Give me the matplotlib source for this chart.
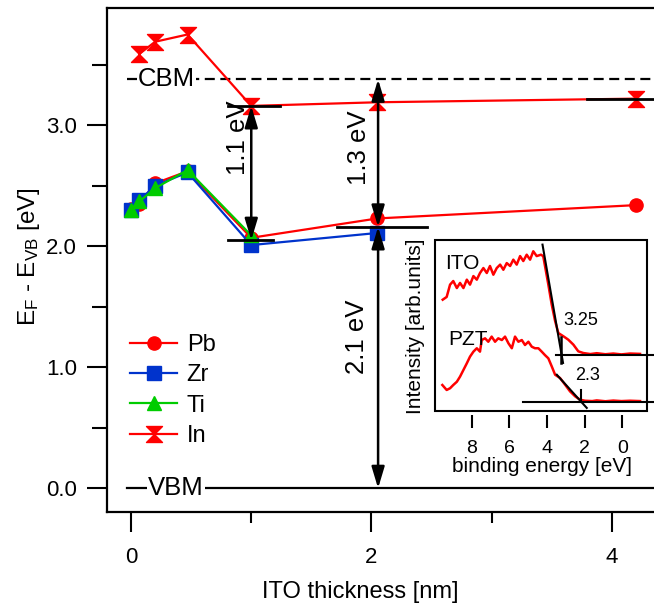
import matplotlib.pyplot as plt
from matplotlib.path import Path
from matplotlib.patches import ArrowStyle, Rectangle

plt.rcParams['font.family'] = ['Liberation Sans', 'DejaVu Sans']
plt.rcParams['mathtext.default'] = 'regular'

# --- main panel: Fermi level vs ITO thickness ---
thick_pb = [0, 0.07, 0.2, 0.47, 1.0, 2.05, 4.2]
pb = [2.31, 2.35, 2.52, 2.62, 2.07, 2.23, 2.34]
thick_zr = [0, 0.07, 0.2, 0.47, 1.0, 2.05]
zr = [2.30, 2.38, 2.50, 2.61, 2.01, 2.11]
thick_ti = [0, 0.07, 0.2, 0.47, 1.0]
ti = [2.30, 2.37, 2.48, 2.63, 2.09]
thick_in = [0.07, 0.2, 0.47, 1.0, 2.05, 4.2]
in_vals = [3.59, 3.69, 3.75, 3.16, 3.19, 3.22]

cbm = 3.38
vbm = 0.0

# short level marks (x from, x to, level)
bar_x0 = [0.81, 0.81, 1.71, 3.79]
bar_x1 = [1.24, 1.18, 2.46, 4.40]
bar_y = [3.16, 2.05, 2.16, 3.22]

# double arrows (x, top, bottom) and their labels
arr_x = [1.0, 2.055, 2.055]
arr_top = [3.16, 3.38, 2.16]
arr_bot = [2.05, 2.16, 0.0]
arr_text = ['1.1 eV', '1.3 eV', '2.1 eV']
arr_tx = [0.886, 1.897, 1.88]
arr_ty = [2.895, 2.817, 1.25]

# --- inset: valence band spectra ---
ito_e = [9.54, 9.33, 9.15, 8.98, 8.79, 8.62, 8.44, 8.26, 8.09, 7.91, 7.73, 7.56,
         7.38, 7.20, 7.03, 6.85, 6.67, 6.49, 6.32, 6.14, 5.96, 5.79, 5.61, 5.43,
         5.26, 5.08, 4.90, 4.73, 4.55, 4.32, 4.20, 3.93, 3.75, 3.57, 3.40, 3.13,
         2.87, 2.60, 2.34, 2.07, 1.70, 1.36, 0.90, 0.48, 0.05, -0.41, -0.94]
ito_i = [0.651, 0.667, 0.739, 0.760, 0.719, 0.749, 0.719, 0.768, 0.739, 0.789,
         0.768, 0.807, 0.836, 0.807, 0.848, 0.797, 0.836, 0.856, 0.826, 0.865,
         0.848, 0.885, 0.856, 0.906, 0.877, 0.914, 0.885, 0.934, 0.906, 0.914,
         0.905, 0.739, 0.622, 0.526, 0.456, 0.437, 0.417, 0.388, 0.349, 0.339,
         0.333, 0.338, 0.332, 0.336, 0.331, 0.336, 0.334]
pzt_e = [9.56, 9.33, 9.15, 8.98, 8.79, 8.62, 8.44, 8.26, 8.09, 7.91, 7.73, 7.56,
         7.47, 7.29, 7.12, 6.94, 6.76, 6.59, 6.40, 6.23, 6.05, 5.87, 5.70, 5.52,
         5.34, 5.17, 4.99, 4.81, 4.64, 4.46, 4.28, 4.11, 3.93, 3.75, 3.57, 3.31,
         3.04, 2.78, 2.51, 2.25, 1.98, 1.60, 1.36, 0.90, 0.48, 0.05, -0.41, -0.94]
pzt_i = [0.152, 0.123, 0.133, 0.152, 0.171, 0.201, 0.240, 0.279, 0.318, 0.347,
         0.367, 0.347, 0.415, 0.425, 0.405, 0.435, 0.405, 0.425, 0.415, 0.435,
         0.396, 0.367, 0.435, 0.405, 0.415, 0.386, 0.405, 0.376, 0.367, 0.367,
         0.347, 0.327, 0.308, 0.261, 0.212, 0.193, 0.154, 0.115, 0.086, 0.066,
         0.060, 0.058, 0.062, 0.057, 0.061, 0.058, 0.060, 0.058]

ito_fit_e = [4.24, 3.15]
ito_fit_i = [0.973, 0.281]
ito_base_e = [3.52, -1.68]
ito_base_i = [0.329, 0.329]
ito_onset = 3.25
pzt_fit_e = [3.48, 1.89]
pzt_fit_i = [0.212, 0.018]
pzt_base_e = [5.29, -1.68]
pzt_base_i = [0.051, 0.051]
pzt_onset = 2.2

RED = '#ff0000'
BLUE = '#0033cc'
GREEN = '#00cc00'

hourglass = Path([(-1, 1), (1, 1), (-1, -1), (1, -1), (-1, 1)],
                 [Path.MOVETO, Path.LINETO, Path.LINETO, Path.LINETO, Path.CLOSEPOLY])

fig = plt.figure(figsize=(6.54, 6.10), dpi=100)
ax = fig.add_axes([107 / 654, 98 / 610, 553 / 654, 504 / 610])

ax.plot(thick_pb, pb, '-o', color=RED, lw=1.6, ms=9.5, mec=RED, label='Pb', zorder=3)
ax.plot(thick_zr, zr, '-s', color=BLUE, lw=1.6, ms=9.5, mec=BLUE, label='Zr', zorder=3)
ax.plot(thick_ti, ti, '-^', color=GREEN, lw=1.6, ms=10.5, mec=GREEN, label='Ti', zorder=3)
ax.plot(thick_in, in_vals, '-', marker=hourglass, color=RED, lw=1.6, ms=11.5, mec=RED,
        label='In', zorder=3)

for x0, x1, y in zip(bar_x0, bar_x1, bar_y):
    ax.plot([x0, x1], [y, y], color='k', lw=2, zorder=4, clip_on=False)

# band edges
ax.plot([-0.03, 4.4], [cbm, cbm], color='k', lw=1.6, dashes=(4.5, 2.5), zorder=2)
ax.plot([-0.03, 4.4], [vbm, vbm], color='k', lw=1.6, zorder=2)
ax.text(0.295, cbm, 'CBM', fontsize=18.5, ha='center', va='center', zorder=4,
        bbox=dict(fc='white', ec='none', pad=1))
ax.text(0.374, vbm, 'VBM', fontsize=18.5, ha='center', va='center', zorder=4,
        bbox=dict(fc='white', ec='none', pad=1))

style = ArrowStyle('<|-|>', head_length=0.9, head_width=0.27)
for x, yt, yb, t, tx, ty in zip(arr_x, arr_top, arr_bot, arr_text, arr_tx, arr_ty):
    ax.annotate('', xy=(x, yb), xytext=(x, yt), zorder=5,
                arrowprops=dict(arrowstyle=style, mutation_scale=14.4, lw=1.8,
                                color='k', shrinkA=0, shrinkB=0))
    ax.text(tx, ty, t, rotation=90, fontsize=18.5, ha='center', va='center')

ax.set_xlim(-0.2, 4.40)
ax.set_ylim(-0.196, 3.969)
ax.set_xticks([0, 2, 4])
ax.set_xticks([1, 3], minor=True)
ax.set_yticks([0, 1, 2, 3])
ax.set_yticklabels(['0.0', '1.0', '2.0', '3.0'])
ax.set_yticks([0.5, 1.5, 2.5, 3.5], minor=True)
ax.tick_params(which='major', direction='out', length=14.5, width=1.5, labelsize=16)
ax.tick_params(axis='x', which='major', pad=10.8)
ax.tick_params(axis='y', which='major', pad=7)
ax.tick_params(axis='x', which='minor', direction='out', length=8, width=1.5)
ax.tick_params(axis='y', which='minor', direction='out', length=11, width=1.5)
for s in ax.spines.values():
    s.set_linewidth(1.6)

ax.set_xlabel('ITO thickness [nm]', fontsize=17, va='center')
ax.xaxis.set_label_coords(0.4575, -0.159)
ax.set_ylabel('E$_F$ - E$_{VB}$ [eV]', fontsize=17.5, va='center')
ax.yaxis.set_label_coords(-0.141, 0.506)

ax.legend(loc='center left', bbox_to_anchor=(0.0416, 0.241), frameon=False,
          fontsize=17, handlelength=2.0, handletextpad=0.4, labelspacing=0.35,
          borderpad=0, borderaxespad=0, numpoints=1)

# inset
axin = fig.add_axes([435 / 654, (610 - 411) / 610, 212 / 654, 171 / 610])
axin.set_facecolor('white')
axin.plot(ito_e, ito_i, color=RED, lw=1.8)
axin.plot(pzt_e, pzt_i, color=RED, lw=1.8)
axin.plot(ito_fit_e, ito_fit_i, color='k', lw=1.5, clip_on=False)
axin.plot(ito_base_e, ito_base_i, color='k', lw=1.5, clip_on=False)
axin.plot([ito_onset, ito_onset], [0.43, 0.28], color='k', lw=1.8)
axin.plot(pzt_fit_e, pzt_fit_i, color='k', lw=1.5, clip_on=False)
axin.plot(pzt_base_e, pzt_base_i, color='k', lw=1.5, clip_on=False)
axin.plot([pzt_onset, pzt_onset], [0.125, 0.051], color='k', lw=1.5)
axin.text(9.42, 0.865, 'ITO', fontsize=15, ha='left', va='center')
axin.text(9.27, 0.418, 'PZT', fontsize=15, ha='left', va='center')
axin.text(3.13, 0.532, '3.25', fontsize=13, ha='left', va='center')
axin.text(2.51, 0.205, '2.3', fontsize=13, ha='left', va='center')

axin.set_xlim(9.95, -1.31)
axin.set_ylim(0, 1)
axin.set_yticks([])
axin.set_xticks([0, 2, 4, 6, 8])
for s in axin.spines.values():
    s.set_visible(False)
axin.spines['bottom'].set_position(('outward', 3))
axin.add_patch(Rectangle((0, 0), 1, 1, transform=axin.transAxes, fill=False,
                         lw=1.5, ec='k', clip_on=False))
axin.tick_params(axis='x', direction='out', length=9.4, width=1.5, pad=8.6, labelsize=14)
axin.set_xlabel('binding energy [eV]', fontsize=15, va='center')
axin.xaxis.set_label_coords(0.503, -0.327)
axin.set_ylabel('Intensity [arb.units]', fontsize=15, va='center')
axin.yaxis.set_label_coords(-0.092, 0.494)

fig.savefig('out.png', dpi=100)
